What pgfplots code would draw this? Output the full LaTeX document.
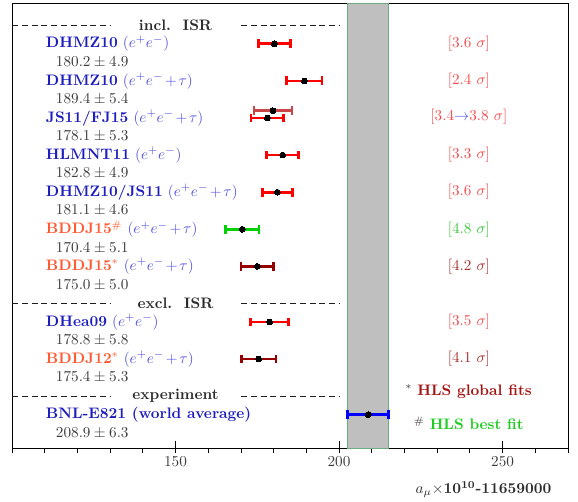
\documentclass[border=0pt]{standalone}
\usepackage{pgfplots}
\pgfplotsset{compat=1.18}
\definecolor{nameblue}{RGB}{30,30,190}
\definecolor{eeblue}{RGB}{80,80,225}
\definecolor{bddj}{RGB}{255,90,50}
\definecolor{valgray}{RGB}{60,60,60}
\definecolor{secgray}{RGB}{45,45,45}
\definecolor{sigred}{RGB}{245,75,75}
\definecolor{siggreen}{RGB}{60,200,60}
\definecolor{sigdred}{RGB}{170,45,45}
\definecolor{barred}{RGB}{255,0,0}
\definecolor{bardred}{RGB}{150,0,0}
\definecolor{bargreen}{RGB}{0,210,0}
\definecolor{barblue}{RGB}{0,0,255}
\definecolor{barmid}{RGB}{200,70,70}
\definecolor{band}{RGB}{191,191,191}
\definecolor{bandedge}{RGB}{110,170,130}
\definecolor{hlsred}{RGB}{165,20,20}
\definecolor{hlsgreen}{RGB}{30,205,30}
\definecolor{dashcol}{RGB}{30,30,30}
\newcommand{\ee}{{\color{eeblue}$(e^+e^-)$}}
\newcommand{\eet}{{\color{eeblue}$(e^+e^-\mkern2mu{+}\mkern2mu\tau)$}}
\newcommand{\fs}{\normalsize}
\tikzset{
  nm/.style={anchor=west, inner sep=0pt, font=\fs},
  vl/.style={anchor=west, inner sep=0pt, font=\fs, text=valgray},
  sg/.style={anchor=center, inner sep=0pt, font=\fs},
}
\begin{document}
\begin{tikzpicture}
\begin{axis}[
  scale only axis, width=365.8pt, height=292.8pt,
  xmin=100, xmax=270, ymin=0, ymax=12,
  axis line style={line width=0.6pt, black},
  ytick=\empty,
  xtick pos=bottom,
  xtick={100,110,...,270}, xticklabels={},
  tick align=outside, major tick length=3.3pt,
  tick style={black, line width=0.55pt},
  extra x ticks={150,200,250},
  extra x tick labels={150,200,250},
  extra x tick style={tick align=inside, major tick length=4.6pt},
  xticklabel style={font=\fs, text=valgray, yshift=-2pt},
  xlabel={{\color{secgray}$a_\mu{\times}$\textbf{10}$^{\mathbf{10}}$\textbf{-11659000}}},
  xlabel style={at={(axis description cs:0.9707,0)}, anchor=north east, inner sep=0pt, yshift=-21.7pt, font=\fs},
  clip=false,
  eb/.style={only marks, mark=*, mark size=1.9pt, mark options={black, fill=black, line width=0pt},
    error bars/.cd, x dir=both, x explicit,
    error bar style={line width=1.8pt, color=#1},
    error mark options={line width=1.8pt, mark size=2.9pt, color=#1, rotate=90}},
]
% band
\addplot[fill=band, draw=bandedge, line width=0.6pt] coordinates {(202.6,0) (215.2,0) (215.2,12) (202.6,12)} -- cycle;
% dashed separators
\addplot[dashcol, line width=0.6pt, dash pattern=on 3.95pt off 2.5pt] coordinates {(100,11.4) (130,11.4)};
\addplot[dashcol, line width=0.6pt, dash pattern=on 3.95pt off 2.5pt] coordinates {(170,11.4) (200,11.4)};
\addplot[dashcol, line width=0.6pt, dash pattern=on 3.95pt off 2.5pt] coordinates {(100,3.9) (130,3.9)};
\addplot[dashcol, line width=0.6pt, dash pattern=on 3.95pt off 2.5pt] coordinates {(170,3.9) (200,3.9)};
\addplot[dashcol, line width=0.6pt, dash pattern=on 3.95pt off 2.5pt] coordinates {(100,1.4) (130,1.4)};
\addplot[dashcol, line width=0.6pt, dash pattern=on 3.95pt off 2.5pt] coordinates {(170,1.4) (200,1.4)};
% data points
\addplot[eb=barred] coordinates {(180.2,10.9) +- (4.9,0)};
\addplot[eb=barred] coordinates {(189.4,9.9) +- (5.4,0)};
\addplot[eb=barmid] coordinates {(179.8,9.1) +- (5.8,0)};
\addplot[eb=barred] coordinates {(178.1,8.9) +- (5.0,0)};
\addplot[eb=barred] coordinates {(182.8,7.9) +- (4.9,0)};
\addplot[eb=barred] coordinates {(181.1,6.9) +- (4.6,0)};
\addplot[eb=bargreen] coordinates {(170.4,5.9) +- (5.1,0)};
\addplot[eb=bardred] coordinates {(175.0,4.9) +- (5.0,0)};
\addplot[eb=barred] coordinates {(178.8,3.4) +- (5.8,0)};
\addplot[eb=bardred] coordinates {(175.4,2.4) +- (5.3,0)};
\addplot[eb=barblue] coordinates {(208.9,0.9) +- (6.3,0)};
% section labels
\node[sg, text=secgray] at (axis cs:150,11.4) {\textbf{incl.~~ISR}};
\node[sg, text=secgray] at (axis cs:150,3.9) {\textbf{excl.~~ISR}};
\node[sg, text=secgray] at (axis cs:150,1.4) {\textbf{experiment}};
% names
\node[nm] at (axis cs:110.3,10.9) {{\color{nameblue}\textbf{DHMZ10}} \ee};
\node[vl] at (axis cs:113.35,10.4) {$180.2\pm4.9$};
\node[nm] at (axis cs:110.3,9.9) {{\color{nameblue}\textbf{DHMZ10}} \eet};
\node[vl] at (axis cs:113.35,9.4) {$189.4\pm5.4$};
\node[nm] at (axis cs:110.3,8.9) {{\color{nameblue}\textbf{JS11/FJ15}} \eet};
\node[vl] at (axis cs:113.35,8.4) {$178.1\pm5.3$};
\node[nm] at (axis cs:110.3,7.9) {{\color{nameblue}\textbf{HLMNT11}} \ee};
\node[vl] at (axis cs:113.35,7.4) {$182.8\pm4.9$};
\node[nm] at (axis cs:110.3,6.9) {{\color{nameblue}\textbf{DHMZ10/JS11}} \eet};
\node[vl] at (axis cs:113.35,6.4) {$181.1\pm4.6$};
\node[nm] at (axis cs:110.3,5.9) {{\color{bddj}\textbf{BDDJ15}$^\#$} \eet};
\node[vl] at (axis cs:113.35,5.4) {$170.4\pm5.1$};
\node[nm] at (axis cs:110.3,4.9) {{\color{bddj}\textbf{BDDJ15}$^*$} \eet};
\node[vl] at (axis cs:113.35,4.4) {$175.0\pm5.0$};
\node[nm] at (axis cs:110.3,3.4) {{\color{nameblue}\textbf{DHea09}} \ee};
\node[vl] at (axis cs:113.35,2.9) {$178.8\pm5.8$};
\node[nm] at (axis cs:110.3,2.4) {{\color{bddj}\textbf{BDDJ12}$^*$} \eet};
\node[vl] at (axis cs:113.35,1.9) {$175.4\pm5.3$};
\node[nm] at (axis cs:110.3,0.9) {{\color{nameblue}\textbf{BNL-E821 (world average)}}};
\node[vl] at (axis cs:113.35,0.4) {$208.9\pm6.3$};
% significance labels
\node[sg, text=sigred] at (axis cs:239.7,10.9) {$[3.6\ \sigma]$};
\node[sg, text=sigred] at (axis cs:239.7,9.9) {$[2.4\ \sigma]$};
\node[sg, text=sigred] at (axis cs:239.7,8.93) {$[3.4{\color{eeblue}\rightarrow}3.8\ \sigma]$};
\node[sg, text=sigred] at (axis cs:239.7,7.9) {$[3.3\ \sigma]$};
\node[sg, text=sigred] at (axis cs:239.7,6.9) {$[3.6\ \sigma]$};
\node[sg, text=siggreen] at (axis cs:239.7,5.9) {$[4.8\ \sigma]$};
\node[sg, text=sigdred] at (axis cs:239.7,4.9) {$[4.2\ \sigma]$};
\node[sg, text=sigred] at (axis cs:239.7,3.4) {$[3.5\ \sigma]$};
\node[sg, text=sigdred] at (axis cs:239.7,2.4) {$[4.1\ \sigma]$};
\node[sg] at (axis cs:239.6,1.52) {{\color{valgray}$^*$}\ {\color{hlsred}\textbf{HLS global fits}}};
\node[sg] at (axis cs:239.7,0.66) {{\color{valgray}$^\#$}\ {\color{hlsgreen}\textbf{HLS best fit}}};
\end{axis}
\pgfresetboundingbox
\path ([xshift=-7.9pt,yshift=-35.5pt]current axis.south west) rectangle ([xshift=6.6pt,yshift=2pt]current axis.north east);
\end{tikzpicture}
\end{document}
